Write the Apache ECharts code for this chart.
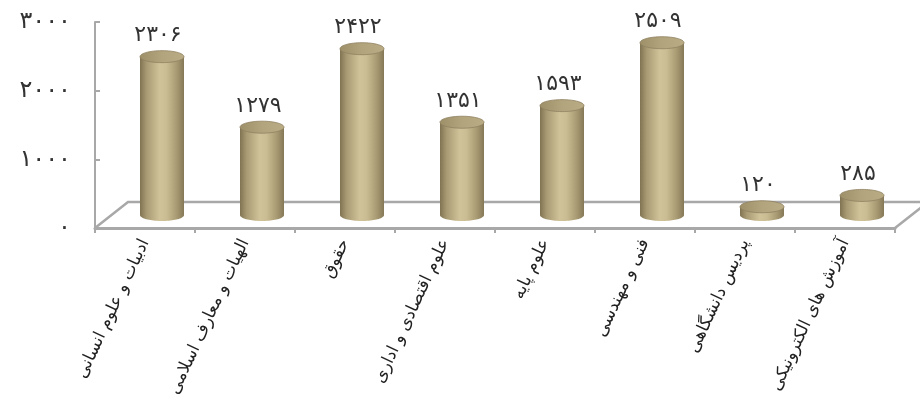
<!DOCTYPE html>
<html>
<head>
<meta charset="utf-8">
<script src="https://cdn.jsdelivr.net/npm/echarts@6/dist/echarts.min.js"></script>
<style>
html,body{margin:0;padding:0;background:#fff;}
#c{width:920px;height:401px;}
</style>
</head>
<body>
<div id="c"></div>
<script>
var categories = ['ادبیات و علوم انسانی','الهیات و معارف اسلامی','حقوق','علوم اقتصادی و اداری','علوم پایه','فنی و مهندسی','پردیس دانشگاهی','آموزش های الکترونیکی'];
var values = [2306, 1279, 2422, 1351, 1593, 2509, 120, 285];
var yTicks = [0, 1000, 2000, 3000];

var FA = '۰۱۲۳۴۵۶۷۸۹';
function toFa(n){ return String(n).replace(/\d/g, function(d){ return FA[+d]; }); }

var DX = 17, DY = -13, FX = 33, FY = -26;

function ellipsePts(cx, cy, rx, ry, a0, a1, n){
  var pts = [];
  for (var k = 0; k <= n; k++){
    var a = a0 + (a1 - a0) * k / n;
    pts.push([cx + rx * Math.cos(a), cy + ry * Math.sin(a)]);
  }
  return pts;
}

function renderBar(params, api){
  var i = api.value(0), v = api.value(1);
  var p0 = api.coord([i, 0]);
  var p1 = api.coord([i, v]);
  var bw = api.size([1, 0])[0];
  var w = bw * 0.44, rx = w / 2, ry = 6;
  var cx = p0[0] + DX;
  var yb = p0[1] + DY, yt = p1[1] + DY;
  var body = [[cx - rx, yt]].concat(ellipsePts(cx, yb, rx, ry, Math.PI, 0, 40)).concat([[cx + rx, yt]]);
  var bodyGrad = new echarts.graphic.LinearGradient(0, 0, 1, 0, [
    {offset: 0, color: '#7f7352'},
    {offset: 0.15, color: '#a89a72'},
    {offset: 0.45, color: '#d0c299'},
    {offset: 0.6, color: '#cbbd93'},
    {offset: 0.85, color: '#a5976f'},
    {offset: 1, color: '#857857'}
  ]);
  var topGrad = new echarts.graphic.LinearGradient(0, 0, 1, 0, [
    {offset: 0, color: '#9d8f68'},
    {offset: 0.5, color: '#b2a47c'},
    {offset: 1, color: '#b9ab83'}
  ]);
  return {
    type: 'group',
    children: [
      {type: 'polygon', shape: {points: body}, style: {fill: bodyGrad}},
      {type: 'polygon', shape: {points: ellipsePts(cx, yt, rx, ry, 0, Math.PI * 2, 60)}, style: {fill: topGrad, stroke: '#8f8261', lineWidth: 0.8}},
      {type: 'text', x: cx - 4, y: yt - ry - 4, style: {text: toFa(v), font: '22px "DejaVu Sans"', fill: '#333', textAlign: 'center', textVerticalAlign: 'bottom'}}
    ]
  };
}

function renderFloor(params, api){
  var p = api.coord([0, 0]);
  var bw = api.size([1, 0])[0];
  var left = p[0] - bw / 2, right = left + bw * categories.length, y = p[1];
  var st = {stroke: '#a8a8a8', lineWidth: 2.5, fill: null};
  return {
    type: 'group',
    children: [
      {type: 'polyline', shape: {points: [[left, y], [left + FX, y + FY], [right + FX, y + FY]]}, style: st},
      {type: 'line', shape: {x1: right, y1: y, x2: right + FX, y2: y + FY}, style: st}
    ]
  };
}

var chart = echarts.init(document.getElementById('c'), null, {renderer: 'canvas'});
chart.setOption({
  animation: false,
  backgroundColor: '#ffffff',
  grid: {left: 95, right: 25, top: 22, bottom: 173, containLabel: false},
  xAxis: {
    type: 'category',
    data: categories,
    axisLine: {lineStyle: {color: '#a8a8a8', width: 3}},
    axisTick: {show: true, length: 5, lineStyle: {color: '#a8a8a8', width: 2}},
    axisLabel: {interval: 0, rotate: 65, margin: 12, fontSize: 17, color: '#222', fontFamily: 'DejaVu Sans'}
  },
  yAxis: {
    type: 'value',
    min: yTicks[0], max: yTicks[yTicks.length - 1], interval: 1000,
    axisLine: {show: true, lineStyle: {color: '#a8a8a8', width: 2}},
    axisTick: {show: true, length: 5, inside: true, lineStyle: {color: '#a8a8a8', width: 2}},
    splitLine: {show: false},
    axisLabel: {margin: 24, fontSize: 24, color: '#333', fontFamily: 'DejaVu Sans', formatter: function(v){ return toFa(v); }}
  },
  series: [
    {type: 'custom', renderItem: renderFloor, data: [[0, 0]], silent: true, z: 1},
    {type: 'custom', renderItem: renderBar, data: values.map(function(v, i){ return [i, v]; }), z: 2}
  ]
});
</script>
</body>
</html>
